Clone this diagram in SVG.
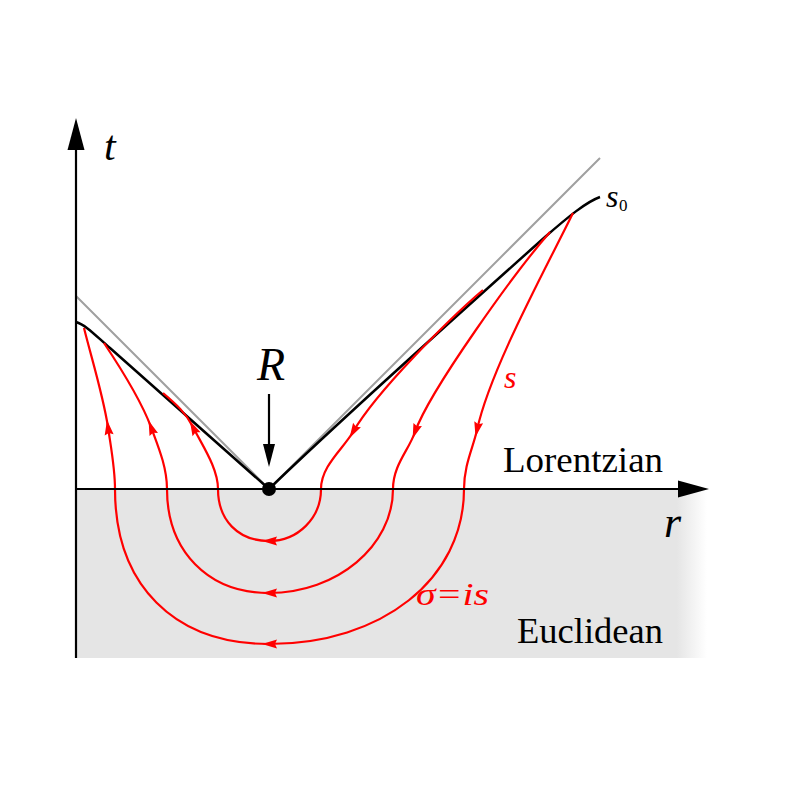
<svg xmlns="http://www.w3.org/2000/svg" width="789" height="789" viewBox="0 0 789 789">
<style>
.ax{stroke:#000;stroke-width:2.2;fill:none}
.gr{stroke:#a0a0a0;stroke-width:2;fill:none}
.bk{stroke:#000;stroke-width:2.5;fill:none}
.rd{stroke:#ff0000;stroke-width:2.2;fill:none}
.rdm{marker-end:url(#ra)}
.lbl{font-family:"Liberation Serif","DejaVu Serif",serif;fill:#000}
.it{font-style:italic}
.red{fill:#ff0000}
</style>
<defs>
<linearGradient id="shade" x1="76" y1="0" x2="707" y2="0" gradientUnits="userSpaceOnUse">
<stop offset="0" stop-color="#e5e5e5"/>
<stop offset="0.952" stop-color="#e5e5e5"/>
<stop offset="1" stop-color="#ffffff"/>
</linearGradient>
<marker id="ra" markerUnits="userSpaceOnUse" markerWidth="20" markerHeight="14" viewBox="-10 -7 20 14" refX="0" refY="0" orient="auto">
<path d="M7,0 L-8,-4.5 L-6,0 L-8,4.5 Z" fill="#ff0000"/>
</marker>
</defs>
<g id="euclidean-region">
<rect x="76" y="489" width="631" height="169" fill="url(#shade)"/>
</g>
<g id="asymptotes">
<path class="gr" d="M76,296 L269,489 L600,158"/>
</g>
<g id="s0-curve">
<path class="bk" d="M76,322 C86,325 96,336 110,348 L269,489"/>
<path class="bk" d="M269,489 C330,430 480,295 545,237 C568,217 586,202 600,197"/>
</g>
<g id="connectors">
<g id="loop-inner">
<path class="rd rdm" d="M483,290 C450,318 376,392 353,432"/>
<path class="rd rdm" d="M353,432 C343,449 321,466 321,489 C321,518 298,541 269,541"/>
<path class="rd rdm" d="M269,541 C238,541 218,520 218,489 C218,468 202,445 193,427"/>
<path class="rd" d="M193,427 C186,413 176,404 163,393"/>
</g>
<g id="loop-middle">
<path class="rd rdm" d="M550,232 C515,272 430,390 415,432"/>
<path class="rd rdm" d="M415,432 C409,450 393,465 393,489 C393,546 337,593 269,593"/>
<path class="rd rdm" d="M269,593 C208,593 167,551 167,489 C167,467 158,446 151,427"/>
<path class="rd" d="M151,427 C142,403 122,370 104,343"/>
</g>
<g id="loop-outer">
<path class="rd rdm" d="M573,213 C545,270 490,370 477,430"/>
<path class="rd rdm" d="M477,430 C473,448 464,465 464,489 C464,579 382,644 269,644"/>
<path class="rd rdm" d="M269,644 C174,644 115,585 115,489 C115,468 111,448 108,427"/>
<path class="rd" d="M108,427 C103,395 92,360 84,328"/>
</g>
</g>
<g id="axes">
<path class="ax" d="M76,658 L76,148"/>
<polygon points="76,118 67.5,150 84.5,150" fill="#000"/>
<path class="ax" d="M76,489 L680,489"/>
<polygon points="709,489 678,480.5 678,497.5" fill="#000"/>
</g>
<g id="point-R">
<path class="ax" d="M269,394 L269,448"/>
<polygon points="269,467 263,444 275,444" fill="#000"/>
<circle cx="269" cy="489" r="7" fill="#000"/>
<text class="lbl it" x="271" y="380" font-size="46" text-anchor="middle">R</text>
</g>
<g id="labels">
<text class="lbl it" x="104" y="160" font-size="42">t</text>
<text class="lbl it" x="664" y="537" font-size="44">r</text>
<text class="lbl it" x="606" y="207" font-size="32">s</text>
<text class="lbl" x="619" y="211" font-size="17">0</text>
<text class="lbl it red" x="504" y="388" font-size="32">s</text>
<text class="lbl it red" x="416" y="605" font-size="31" textLength="73" lengthAdjust="spacingAndGlyphs">σ=is</text>
<text class="lbl" x="503" y="472" font-size="35" textLength="160" lengthAdjust="spacingAndGlyphs">Lorentzian</text>
<text class="lbl" x="517" y="643" font-size="35" textLength="146" lengthAdjust="spacingAndGlyphs">Euclidean</text>
</g>
</svg>
